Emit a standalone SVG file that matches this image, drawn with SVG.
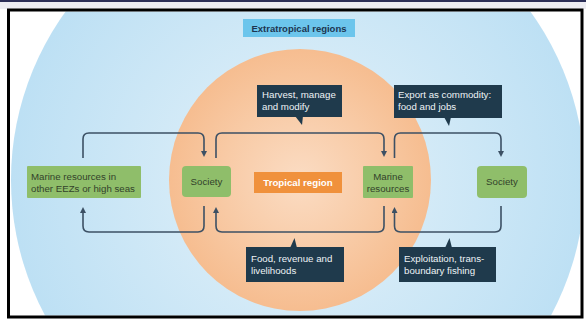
<svg xmlns="http://www.w3.org/2000/svg" width="586" height="325" viewBox="0 0 586 325">
  <defs>
    <radialGradient id="blueFill" cx="300" cy="181" r="288" gradientUnits="userSpaceOnUse">
      <stop offset="0.45" stop-color="#d3eaf7"/>
      <stop offset="1" stop-color="#bde0f4"/>
    </radialGradient>
    <radialGradient id="orangeFill" cx="300" cy="180" r="131" gradientUnits="userSpaceOnUse">
      <stop offset="0" stop-color="#fbdcc3"/>
      <stop offset="0.6" stop-color="#f8caa5"/>
      <stop offset="1" stop-color="#f6bd90"/>
    </radialGradient>
    <clipPath id="frameClip">
      <rect x="10" y="11.5" width="570" height="304"/>
    </clipPath>
    <marker id="arrow" viewBox="0 0 6 6" refX="3" refY="3" markerWidth="6" markerHeight="6" markerUnits="userSpaceOnUse" orient="auto">
      <path d="M0,0 L6,3 L0,6 z" fill="#3c5064"/>
    </marker>
    <style>
      .flow { fill: none; stroke: #3c5064; stroke-width: 1.6; marker-end: url(#arrow); }
      .green { fill: #8fbe6a; }
      .gtext { font-family: "Liberation Sans", Arial, sans-serif; font-size: 9.7px; fill: #33422a; }
      .callout { fill: #1f3a4c; }
      .ctext { font-family: "Liberation Sans", Arial, sans-serif; font-size: 9.7px; fill: #eef3f6; }
    </style>
  </defs>

  <!-- page background and frame -->
  <rect x="0" y="0" width="586" height="325" fill="#ffffff"/>
  <rect x="0" y="2" width="586" height="7" fill="#ededf3"/>
  <rect x="0" y="0" width="586" height="2" fill="#2c2f58"/>

  <g clip-path="url(#frameClip)">
    <rect x="10" y="11.5" width="570" height="304" fill="#ffffff"/>
    <circle cx="298" cy="180" r="287" fill="url(#blueFill)"/>
    <circle cx="300" cy="180" r="131" fill="url(#orangeFill)"/>
  </g>
  <rect x="8.5" y="10" width="573.5" height="307" fill="none" stroke="#000000" stroke-width="3"/>

  <!-- region labels -->
  <g id="extratropical-label">
    <rect x="243" y="19" width="112" height="18" fill="#6cc5ec"/>
    <text x="299" y="31.5" text-anchor="middle" font-family="Liberation Sans, Arial, sans-serif" font-size="9.5" font-weight="bold" fill="#1d3550">Extratropical regions</text>
  </g>
  <g id="tropical-label">
    <rect x="254" y="172" width="88" height="21" fill="#f0913c"/>
    <text x="298" y="186" text-anchor="middle" font-family="Liberation Sans, Arial, sans-serif" font-size="9.7" font-weight="bold" fill="#ffffff">Tropical region</text>
  </g>

  <!-- connectors -->
  <g id="connectors">
    <path class="flow" d="M83,158 V139 Q83,133 89,133 H198 Q204,133 204,139 V154"/>
    <path class="flow" d="M216,158 V139 Q216,133 222,133 H378 Q384,133 384,139 V154"/>
    <path class="flow" d="M394.5,158 V139 Q394.5,133 400.5,133 H495 Q501,133 501,139 V154"/>
    <path class="flow" d="M204,206 V226 Q204,232 198,232 H89 Q83,232 83,226 V210"/>
    <path class="flow" d="M384,206 V226 Q384,232 378,232 H222 Q216,232 216,226 V210"/>
    <path class="flow" d="M501,206 V226 Q501,232 495,232 H400.5 Q394.5,232 394.5,226 V210"/>
  </g>

  <!-- nodes -->
  <g id="marine-other-eezs">
    <rect class="green" x="27" y="166" width="114" height="32" rx="1"/>
    <text class="gtext" x="31" y="179.5">Marine resources in</text>
    <text class="gtext" x="31" y="191.5">other EEZs or high seas</text>
  </g>
  <g id="society-tropical">
    <rect class="green" x="182" y="166" width="49" height="31" rx="4"/>
    <text class="gtext" x="206.5" y="185" text-anchor="middle">Society</text>
  </g>
  <g id="marine-resources">
    <rect class="green" x="363" y="166" width="50" height="32" rx="1"/>
    <text class="gtext" x="388" y="179.5" text-anchor="middle">Marine</text>
    <text class="gtext" x="388" y="191.5" text-anchor="middle">resources</text>
  </g>
  <g id="society-extratropical">
    <rect class="green" x="477" y="166" width="50" height="32" rx="4"/>
    <text class="gtext" x="502" y="185" text-anchor="middle">Society</text>
  </g>

  <!-- callouts -->
  <g id="harvest">
    <rect class="callout" x="257" y="85" width="85" height="32"/>
    <path class="callout" d="M295,116 H303 L302,125 z"/>
    <text class="ctext" x="262" y="98">Harvest, manage</text>
    <text class="ctext" x="262" y="110">and modify</text>
  </g>
  <g id="export">
    <rect class="callout" x="394" y="85" width="108" height="33"/>
    <path class="callout" d="M444,117 H451 L449,126 z"/>
    <text class="ctext" x="398" y="98">Export as commodity:</text>
    <text class="ctext" x="398" y="110">food and jobs</text>
  </g>
  <g id="food-revenue">
    <rect class="callout" x="246" y="247" width="98" height="35"/>
    <path class="callout" d="M290,248 H297 L294.5,238 z"/>
    <text class="ctext" x="251" y="262">Food, revenue and</text>
    <text class="ctext" x="251" y="274">livelihoods</text>
  </g>
  <g id="exploitation">
    <rect class="callout" x="399" y="247" width="97" height="35"/>
    <path class="callout" d="M445,248 H452 L449.5,238 z"/>
    <text class="ctext" x="404" y="262">Exploitation, trans-</text>
    <text class="ctext" x="404" y="274">boundary fishing</text>
  </g>
</svg>
